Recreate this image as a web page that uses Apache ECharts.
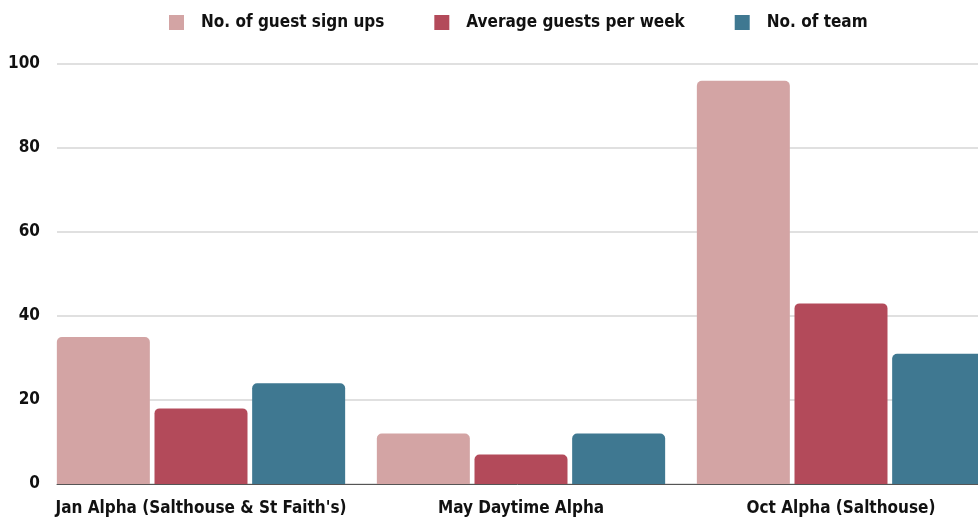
<!DOCTYPE html>
<html>
<head>
<meta charset="utf-8">
<script src="https://cdn.jsdelivr.net/npm/echarts@6/dist/echarts.min.js"></script>
<style>html,body{margin:0;padding:0;background:#fff}#c{width:978px;height:521px}</style>
</head>
<body>
<div id="c"></div>
<script>
const categories = ["Jan Alpha (Salthouse & St Faith's)", "May Daytime Alpha", "Oct Alpha (Salthouse)"];
const seriesNames = ["No. of guest sign ups", "Average guests per week", "No. of team"];
const signUps = [35, 12, 96];
const avgGuests = [18, 7, 43];
const team = [24, 12, 31];
const yTicks = [0, 20, 40, 60, 80, 100];

const FONT = "'Liberation Sans Narrow', 'DejaVu Sans Condensed', sans-serif";
const colors = ['#d3a4a4', '#b34a5a', '#3f7891'];
const values = [signUps, avgGuests, team];

const chart = echarts.init(document.getElementById('c'), null, {renderer: 'canvas'});
chart.setOption({
  animation: false,
  color: colors,
  textStyle: {fontFamily: FONT},
  legend: {
    top: 9, left: 164,
    itemWidth: 15, itemHeight: 15, itemGap: 50,
    icon: 'rect',
    textStyle: {fontFamily: FONT, fontWeight: 'bold', fontSize: 17, color: '#111', padding: [0, 0, 0, 12]},
    data: seriesNames
  },
  grid: [
    {left: 57, right: 0, top: 64, bottom: 37, outerBoundsMode: 'none'},
    {left: 41, width: 960, top: 64, bottom: 37, outerBoundsMode: 'none'}
  ],
  xAxis: [
    {gridIndex: 0, type: 'category', data: categories,
     axisLine: {show: true, lineStyle: {color: '#555', width: 1}},
     axisTick: {show: false}, axisLabel: {show: false}},
    {gridIndex: 1, type: 'category', data: categories,
     axisLine: {show: false}, axisTick: {show: false},
     axisLabel: {interval: 0, fontFamily: FONT, fontWeight: 'bold', fontSize: 17, color: '#111', margin: 16, hideOverlap: false}}
  ],
  yAxis: [
    {gridIndex: 0, type: 'value', min: yTicks[0], max: yTicks[yTicks.length - 1], interval: 20,
     axisLine: {show: false}, axisTick: {show: false},
     splitLine: {lineStyle: {color: '#d6d6d6', width: 1.5}},
     axisLabel: {fontFamily: FONT, fontWeight: 'bold', fontSize: 17, color: '#111', margin: 17}},
    {gridIndex: 1, type: 'value', min: yTicks[0], max: yTicks[yTicks.length - 1], interval: 20,
     show: false, splitLine: {show: false}}
  ],
  series: values.map((v, i) => ({
    name: seriesNames[i], type: 'bar', xAxisIndex: 1, yAxisIndex: 1,
    data: v, barWidth: 93, barGap: '5%',
    itemStyle: {color: colors[i], borderRadius: [5, 5, 0, 0]}
  }))
});
</script>
</body>
</html>
